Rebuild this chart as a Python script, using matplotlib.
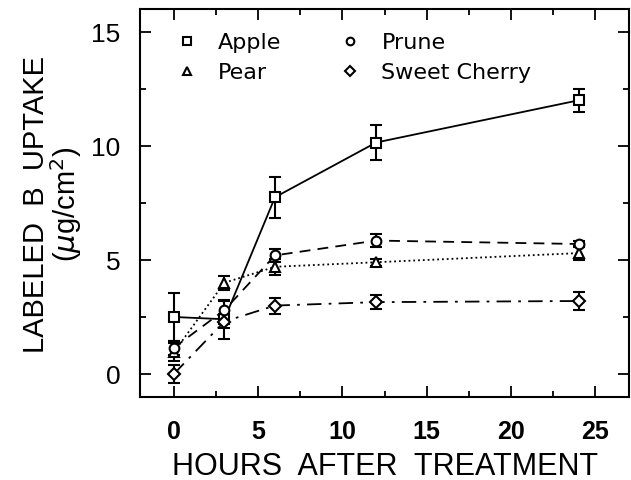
import numpy as np
import matplotlib.pyplot as plt
from matplotlib.ticker import MultipleLocator

hours = [0, 3, 6, 12, 24]

apple = [2.5, 2.4, 7.75, 10.15, 12.0]
apple_err = [1.05, 0.85, 0.9, 0.75, 0.5]

prune = [1.15, 2.8, 5.2, 5.85, 5.7]
prune_err = [0.3, 0.4, 0.3, 0.3, 0.15]

pear = [0.95, 4.0, 4.7, 4.9, 5.3]
pear_err = [0.4, 0.3, 0.35, 0.15, 0.3]

cherry = [0.0, 2.3, 3.0, 3.15, 3.2]
cherry_err = [0.4, 0.3, 0.35, 0.3, 0.4]

plt.rcParams['font.family'] = ['Liberation Sans', 'DejaVu Sans']

fig = plt.figure(figsize=(6.31, 4.81), dpi=100)
ax = fig.add_axes([0.222, 0.173, 0.775, 0.806])

series = [
    ("Apple", apple, apple_err, 's', '-'),
    ("Pear", pear, pear_err, '^', ':'),
    ("Prune", prune, prune_err, 'o', (0, (6, 4))),
    ("Sweet Cherry", cherry, cherry_err, 'D', (0, (8, 4, 1.5, 4))),
]

handles = []
for name, y, err, mk, ls in series:
    ms = 6 if mk == 'D' else 7
    if mk == 's':
        ms = 6.5
    ax.errorbar(hours, y, yerr=err, color='black', ls=ls, lw=1.3,
                marker=mk, ms=ms, mfc='white', mec='black', mew=1.5,
                capsize=4, capthick=1.5, elinewidth=1.5, zorder=3)
    h, = ax.plot([], [], ls='none', marker=mk, ms=5.5, mfc='white',
                 mec='black', mew=1.5, color='black', label=name)
    handles.append(h)

ax.set_xlim(-2, 27)
ax.set_ylim(-1, 16)
ax.xaxis.set_major_locator(MultipleLocator(5))
ax.xaxis.set_minor_locator(MultipleLocator(2.5))
ax.yaxis.set_major_locator(MultipleLocator(5))
ax.yaxis.set_minor_locator(MultipleLocator(2.5))
ax.tick_params(which='both', direction='in', top=True, right=True, width=1.3)
ax.tick_params(which='major', length=8)
ax.tick_params(which='minor', length=4)
ax.tick_params(axis='x', labelsize=18, pad=16)
ax.tick_params(axis='y', labelsize=19, pad=14)
for lab in ax.get_xticklabels():
    lab.set_fontweight('bold')
for sp in ax.spines.values():
    sp.set_linewidth(1.5)

ax.set_xlabel("HOURS  AFTER  TREATMENT", fontsize=22, labelpad=6)
ax.set_ylabel("LABELED  B  UPTAKE\n($\\mu$g/cm$^2$)", fontsize=21,
              linespacing=0.95, labelpad=5)

ax.legend(handles=handles, loc='upper left', ncol=2, frameon=False,
          handletextpad=0.9, columnspacing=2.6,
          labelspacing=0.45, borderaxespad=0.0, handlelength=1.0,
          bbox_to_anchor=(0.055, 0.963),
          prop={'family': 'DejaVu Sans', 'size': 16})

fig.savefig("out.png", dpi=100)
